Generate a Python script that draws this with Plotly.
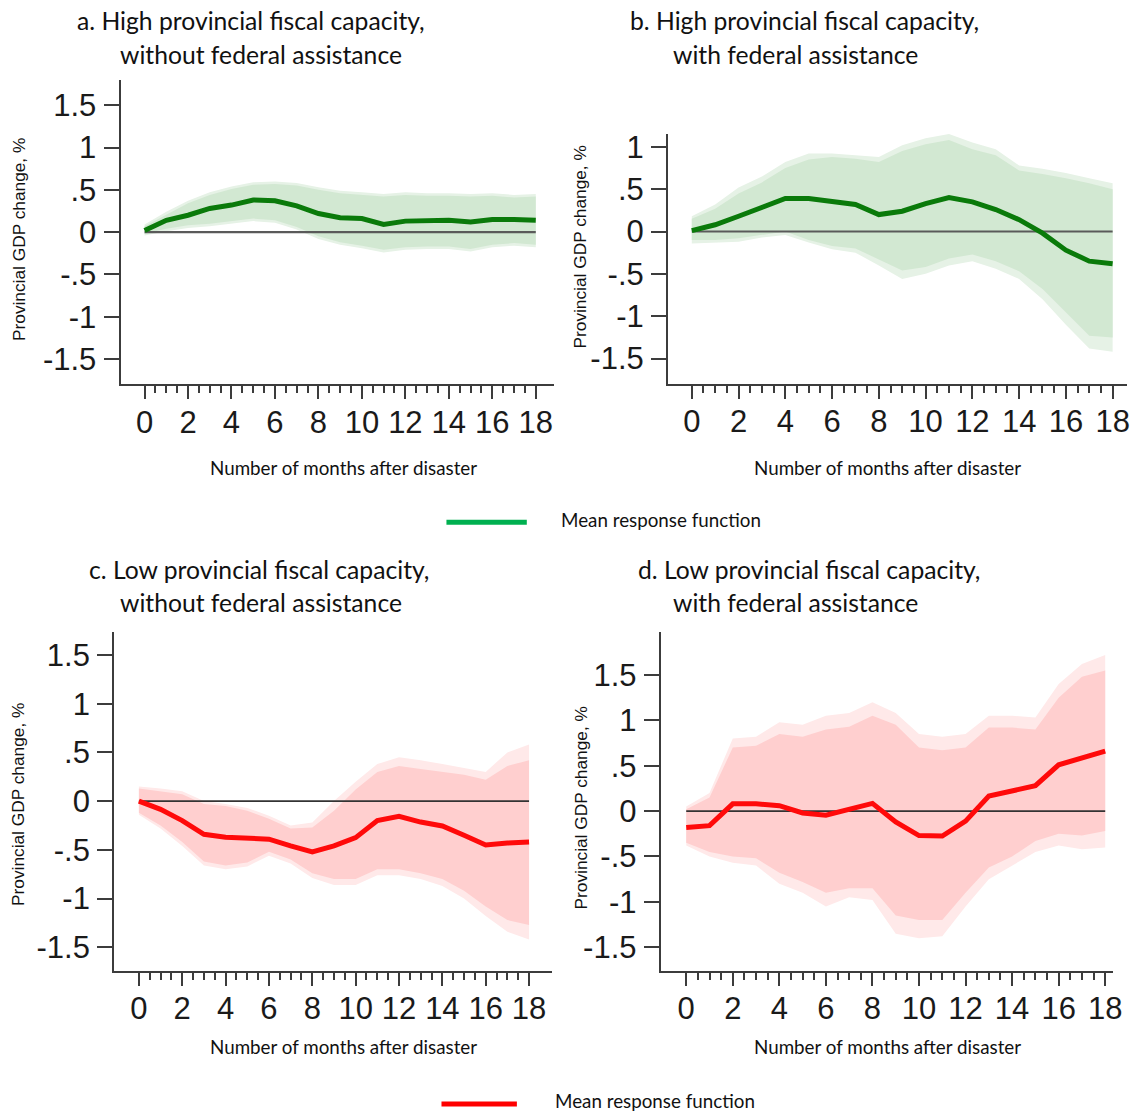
import plotly.graph_objects as go

# Months after the disaster (x values shared by all four panels)
months = list(range(19))

# a. High fiscal capacity, without federal assistance
a_mean = [0.02, 0.14, 0.20, 0.28, 0.32, 0.38, 0.37, 0.31, 0.22, 0.17, 0.16, 0.09, 0.13, 0.14, 0.14, 0.12, 0.15, 0.15, 0.14]
a_hi90 = [0.07, 0.21, 0.34, 0.44, 0.51, 0.56, 0.57, 0.55, 0.50, 0.46, 0.44, 0.42, 0.44, 0.43, 0.43, 0.42, 0.43, 0.41, 0.42]
a_lo90 = [-0.02, 0.04, 0.08, 0.10, 0.13, 0.16, 0.14, 0.06, -0.05, -0.12, -0.16, -0.21, -0.18, -0.17, -0.17, -0.20, -0.15, -0.13, -0.15]
a_hi95 = [0.09, 0.24, 0.37, 0.47, 0.54, 0.59, 0.60, 0.58, 0.53, 0.49, 0.47, 0.45, 0.47, 0.46, 0.46, 0.45, 0.46, 0.44, 0.45]
a_lo95 = [-0.04, 0.01, 0.05, 0.07, 0.10, 0.13, 0.11, 0.03, -0.08, -0.15, -0.19, -0.24, -0.21, -0.20, -0.20, -0.23, -0.18, -0.16, -0.18]

# b. High fiscal capacity, with federal assistance
b_mean = [0.01, 0.08, 0.18, 0.29, 0.39, 0.39, 0.36, 0.32, 0.20, 0.24, 0.33, 0.40, 0.35, 0.26, 0.14, -0.02, -0.22, -0.35, -0.38]
b_hi90 = [0.15, 0.27, 0.45, 0.58, 0.75, 0.85, 0.88, 0.86, 0.82, 0.95, 1.03, 1.08, 0.97, 0.90, 0.72, 0.68, 0.63, 0.57, 0.50]
b_lo90 = [-0.10, -0.10, -0.08, -0.04, 0.00, -0.10, -0.17, -0.20, -0.33, -0.46, -0.42, -0.32, -0.27, -0.35, -0.47, -0.68, -0.95, -1.23, -1.25]
b_hi95 = [0.18, 0.32, 0.52, 0.65, 0.82, 0.92, 0.92, 0.90, 0.88, 1.02, 1.10, 1.15, 1.05, 0.97, 0.78, 0.74, 0.69, 0.63, 0.57]
b_lo95 = [-0.14, -0.13, -0.12, -0.07, -0.04, -0.13, -0.21, -0.25, -0.40, -0.56, -0.50, -0.40, -0.35, -0.44, -0.56, -0.80, -1.10, -1.38, -1.42]

# c. Low fiscal capacity, without federal assistance
c_mean = [0.00, -0.085, -0.20, -0.34, -0.37, -0.38, -0.39, -0.46, -0.52, -0.46, -0.375, -0.20, -0.155, -0.215, -0.255, -0.35, -0.45, -0.43, -0.42]
c_hi90 = [0.13, 0.10, 0.07, -0.03, -0.05, -0.10, -0.18, -0.28, -0.27, -0.10, 0.12, 0.30, 0.36, 0.33, 0.30, 0.27, 0.22, 0.36, 0.42]
c_lo90 = [-0.12, -0.25, -0.42, -0.62, -0.66, -0.63, -0.52, -0.60, -0.74, -0.80, -0.80, -0.70, -0.70, -0.74, -0.80, -0.92, -1.08, -1.22, -1.27]
c_hi95 = [0.15, 0.13, 0.10, 0.00, -0.03, -0.07, -0.15, -0.25, -0.22, 0.00, 0.20, 0.38, 0.45, 0.42, 0.38, 0.34, 0.30, 0.50, 0.58]
c_lo95 = [-0.14, -0.28, -0.46, -0.66, -0.70, -0.67, -0.56, -0.64, -0.79, -0.86, -0.86, -0.76, -0.76, -0.80, -0.87, -1.00, -1.18, -1.34, -1.42]

# d. Low fiscal capacity, with federal assistance
d_mean = [-0.18, -0.16, 0.08, 0.08, 0.06, -0.02, -0.045, 0.025, 0.085, -0.12, -0.27, -0.275, -0.11, 0.165, 0.22, 0.28, 0.51, 0.585, 0.66]
d_hi90 = [0.02, 0.15, 0.70, 0.72, 0.85, 0.82, 0.90, 0.93, 1.05, 0.95, 0.70, 0.67, 0.70, 0.92, 0.92, 0.90, 1.25, 1.48, 1.55]
d_lo90 = [-0.35, -0.45, -0.50, -0.52, -0.68, -0.78, -0.90, -0.85, -0.85, -1.15, -1.20, -1.20, -0.90, -0.62, -0.50, -0.33, -0.25, -0.27, -0.22]
d_hi95 = [0.05, 0.20, 0.80, 0.82, 0.98, 0.95, 1.05, 1.08, 1.20, 1.08, 0.85, 0.82, 0.85, 1.05, 1.05, 1.03, 1.40, 1.62, 1.72]
d_lo95 = [-0.38, -0.50, -0.57, -0.60, -0.80, -0.90, -1.05, -0.95, -0.98, -1.35, -1.40, -1.38, -1.05, -0.75, -0.60, -0.45, -0.38, -0.42, -0.40]

# Axis ticks
x_major = [0, 2, 4, 6, 8, 10, 12, 14, 16, 18]
x_minor = [m / 2 for m in range(1, 36) if m % 4 != 0]
y_vals = [-1.5, -1, -0.5, 0, 0.5, 1, 1.5]
y_text = ["-1.5", "-1", "-.5", "0", ".5", "1", "1.5"]

panel_titles = [
    ("a. High provincial fiscal capacity,", "without federal assistance"),
    ("b. High provincial fiscal capacity,", "with federal assistance"),
    ("c. Low provincial fiscal capacity,", "without federal assistance"),
    ("d. Low provincial fiscal capacity,", "with federal assistance"),
]
y_title = "Provincial GDP change, %"
x_title = "Number of months after disaster"
legend_text = "Mean response function"

W, H = 1139, 1111


def fx(p):
    return p / W


def fy(p):
    return 1 - p / H


GREEN = dict(line="#0a7a0a", inner="#d2e8d2", outer="#e6f2e6", key="#00b050")
RED = dict(line="#ff0a0a", inner="#ffcfcf", outer="#ffe9e9", key="#ff0000")

# left, right, top, bottom (px) of each plot frame and its value ranges
panels = [
    dict(mean=a_mean, hi90=a_hi90, lo90=a_lo90, hi95=a_hi95, lo95=a_lo95, col=GREEN,
         box=(121.5, 558, 76.7, 381.7), xr=[-1.105, 18.82], yr=[-1.80, 1.794], zw=2.2, zc="#5a5a5a"),
    dict(mean=b_mean, hi90=b_hi90, lo90=b_lo90, hi95=b_hi95, lo95=b_lo95, col=GREEN,
         box=(673.3, 1136, 130, 381), xr=[-1.018, 18.615], yr=[-1.796, 1.157], zw=2.2, zc="#5a5a5a"),
    dict(mean=c_mean, hi90=c_hi90, lo90=c_lo90, hi95=c_hi95, lo95=c_lo95, col=RED,
         box=(115, 556, 630, 970), xr=[-1.144, 19.04], yr=[-1.738, 1.738], zw=1.6, zc="#333333"),
    dict(mean=d_mean, hi90=d_hi90, lo90=d_lo90, hi95=d_hi95, lo95=d_lo95, col=RED,
         box=(666, 1122, 630, 970), xr=[-1.095, 18.34], yr=[-1.756, 1.976], zw=1.6, zc="#333333"),
]

AXIS_COLOR = "#3c3c3c"
NUM_FONT = dict(family="Liberation Sans, Arial, sans-serif", size=31, color="#1a1a1a")

fig = go.Figure()
layout = dict(
    width=W, height=H, margin=dict(l=0, r=0, t=0, b=0),
    paper_bgcolor="white", plot_bgcolor="white", showlegend=False,
)

for i, p in enumerate(panels):
    n = "" if i == 0 else str(i + 1)
    xa, ya = "x" + n, "y" + n
    c = p["col"]
    band_x = months + months[::-1]
    fig.add_trace(go.Scatter(x=band_x, y=p["hi95"] + p["lo95"][::-1], xaxis=xa, yaxis=ya,
                             fill="toself", fillcolor=c["outer"], line=dict(width=0),
                             mode="lines", hoverinfo="skip"))
    fig.add_trace(go.Scatter(x=band_x, y=p["hi90"] + p["lo90"][::-1], xaxis=xa, yaxis=ya,
                             fill="toself", fillcolor=c["inner"], line=dict(width=0),
                             mode="lines", hoverinfo="skip"))
    fig.add_trace(go.Scatter(x=[months[0], months[-1]], y=[0, 0], xaxis=xa, yaxis=ya,
                             mode="lines", line=dict(color=p["zc"], width=p["zw"]),
                             hoverinfo="skip"))
    fig.add_trace(go.Scatter(x=months, y=p["mean"], xaxis=xa, yaxis=ya, mode="lines",
                             line=dict(color=c["line"], width=5)))

    l, r, t, b = p["box"]
    layout["xaxis" + n] = dict(
        domain=[fx(l), fx(r)], range=p["xr"], anchor=ya,
        showline=True, linecolor=AXIS_COLOR, linewidth=2, showgrid=False, zeroline=False,
        tickmode="array", tickvals=x_major, ticktext=[str(v) for v in x_major],
        ticks="outside", ticklen=13, tickwidth=2, tickcolor=AXIS_COLOR,
        tickfont=NUM_FONT, ticklabelstandoff=-4,
        minor=dict(tickmode="array", tickvals=x_minor, ticks="outside", ticklen=7,
                   tickwidth=1.5, tickcolor=AXIS_COLOR, showgrid=False),
    )
    layout["yaxis" + n] = dict(
        domain=[fy(b), fy(t)], range=p["yr"], anchor=xa,
        showline=True, linecolor=AXIS_COLOR, linewidth=2, showgrid=False, zeroline=False,
        tickmode="array", tickvals=y_vals, ticktext=y_text,
        ticks="outside", ticklen=15, tickwidth=2, tickcolor=AXIS_COLOR,
        tickfont=NUM_FONT, ticklabelstandoff=1,
    )

fig.update_layout(**layout)

TITLE_FONT = dict(family="Lato, sans-serif", size=24.7, color="#111111")
LABEL_FONT = dict(family="Lato, sans-serif", size=18.8, color="#111111")
YT_FONT = dict(family="Liberation Sans, Arial, sans-serif", size=17.3, color="#111111")

ann = []
# panel titles: (x of line 1, x of line 2, y of line 1, y of line 2)
title_pos = [(76, 119, 17, 51), (633, 676, 17, 51), (88, 119, 568, 601), (641, 676, 568, 601)]
for (l1, l2), (x1, x2, y1, y2) in zip(panel_titles, title_pos):
    ann.append(dict(text=l1, x=fx(x1), y=fy(y1), xanchor="left", yanchor="middle", font=TITLE_FONT))
    ann.append(dict(text=l2, x=fx(x2), y=fy(y2), xanchor="left", yanchor="middle", font=TITLE_FONT))

# rotated y titles and x titles
for (xc, yc) in [(19, 236), (585, 244), (18, 803), (586, 807)]:
    ann.append(dict(text=y_title, x=fx(xc), y=fy(yc), textangle=-90, xanchor="center",
                    yanchor="middle", font=YT_FONT))
for (xc, yc) in [(346, 465), (895, 465), (346, 1046), (895, 1046)]:
    ann.append(dict(text=x_title, x=fx(xc), y=fy(yc), xanchor="center", yanchor="middle",
                    font=LABEL_FONT))

# legend keys
shapes = []
for (x0, x1, yk, tx, ty, col) in [(450, 531, 520, 563, 517, GREEN["key"]),
                                  (445, 521, 1104, 557, 1100, RED["key"])]:
    shapes.append(dict(type="line", xref="paper", yref="paper", x0=fx(x0), x1=fx(x1),
                       y0=fy(yk), y1=fy(yk), line=dict(color=col, width=5)))
    ann.append(dict(text=legend_text, x=fx(tx), y=fy(ty), xanchor="left", yanchor="middle",
                    font=LABEL_FONT))

for a in ann:
    a.update(xref="paper", yref="paper", showarrow=False)

fig.update_layout(annotations=ann, shapes=shapes)
fig.write_html("out.html")
